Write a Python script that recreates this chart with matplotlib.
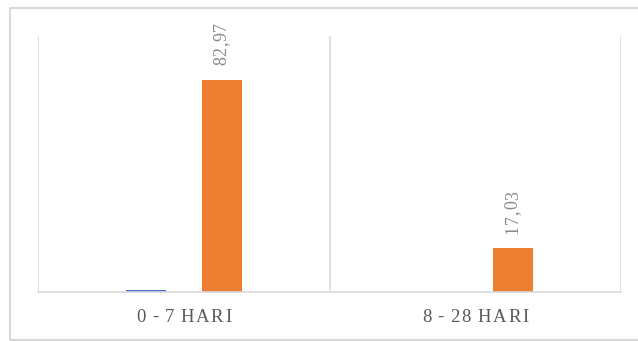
import numpy as np
import matplotlib.pyplot as plt
from matplotlib.patches import Rectangle

categories = ["0-7 HARI", "8-28 HARI"]
blue_values = [0.6, 0.0]
orange_values = [82.97, 17.03]
orange_labels = ["82,97", "17,03"]

W, H = 638, 341
fig = plt.figure(figsize=(W / 100, H / 100), dpi=100)
fig.patches.append(Rectangle((10 / W, 1 / H), 640 / W, 332 / H,
                             transform=fig.transFigure, fill=False,
                             edgecolor="#d0d0d0", linewidth=1.2))
ax = fig.add_axes([38 / W, 49 / H, 583 / W, 256 / H])

x = np.arange(len(categories))
w = 0.137
ax.bar(x - 0.13, blue_values, w, color="#4472C4")
ax.bar(x + 0.13, orange_values, w, color="#ED7D31")

ax.set_xlim(-0.5, 1.5)
ax.set_ylim(0, 100)
ax.set_xticks([])
ax.set_yticks([])
for b in [-0.5, 0.5, 1.5]:
    ax.axvline(b, color="#d9d9d9", linewidth=1.2)
for s in ["top", "right", "left"]:
    ax.spines[s].set_visible(False)
ax.spines["bottom"].set_color("#d9d9d9")
ax.spines["bottom"].set_linewidth(1.2)

renderer = fig.canvas.get_renderer()


def spaced_text(s, cx, cy, size, color, gap, rotation=0):
    # draw a string char by char with extra spacing (pixels), centred at cx, cy
    widths = []
    for ch in s:
        t = fig.text(0, 0, ch if ch != " " else "n", fontsize=size,
                     family="Liberation Serif")
        bb = t.get_window_extent(renderer)
        t.remove()
        widths.append(bb.width * (0.3 if ch == " " else 1.0))
    total = sum(widths) + gap * (len(s) - 1)
    pos = -total / 2
    for ch, wd in zip(s, widths):
        c = pos + wd / 2
        if rotation == 0:
            px, py = cx + c, cy
        else:
            px, py = cx, cy + c
        fig.text(px / W, py / H, ch, fontsize=size, family="Liberation Serif",
                 color=color, ha="center", va="center", rotation=rotation)
        pos += wd + gap


for xi, lab in zip(x, categories):
    px = ax.transData.transform((xi, 0))[0]
    spaced_text(lab.replace("-", " - "), px, H - 317, 13.5, "#595959", 1.8)

for xi, v, lab in zip(x, orange_values, orange_labels):
    px, py = ax.transData.transform((xi + 0.13, v))
    spaced_text(lab, px, py + 36, 13, "#8a8a8a", 0.8, rotation=90)

fig.savefig("out.png", dpi=100)
